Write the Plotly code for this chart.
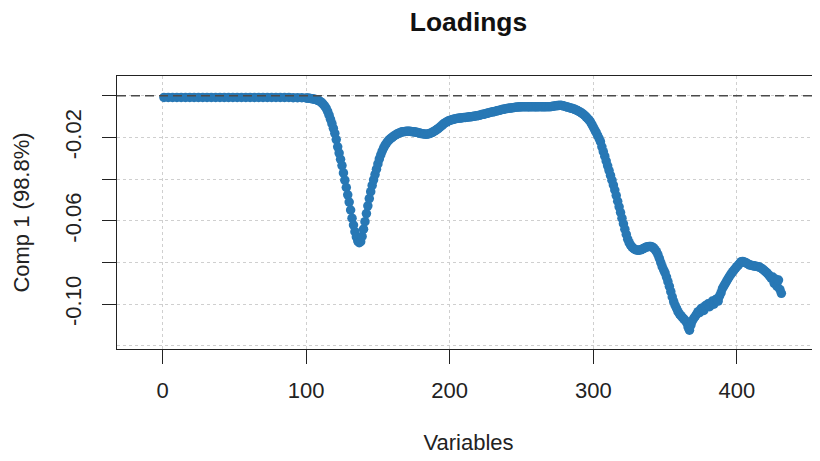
import plotly.graph_objects as go

# ---- data -------------------------------------------------------------
variables = list(range(1, 100, 3)) + list(range(100, 432))

loadings = [
    -0.0008, -0.0008, -0.0008, -0.0008, -0.0008, -0.0008, -0.0008, -0.0008, -0.0008, -0.0008, -0.0008,
    -0.0008, -0.0008, -0.0008, -0.0008, -0.0008, -0.0008, -0.0008, -0.0008, -0.0008, -0.0008, -0.0008,
    -0.0008, -0.0008, -0.0008, -0.0008, -0.0008, -0.0008, -0.0008, -0.0008, -0.0009, -0.0009, -0.0009,
    # 100
    -0.0010, -0.0011, -0.0012, -0.0013, -0.0014, -0.0015, -0.0017, -0.0019, -0.0021, -0.0024,
    -0.0028, -0.0034, -0.0041, -0.0050, -0.0060, -0.0075, -0.0093, -0.0113, -0.0134, -0.0156,
    -0.0180, -0.0210, -0.0245, -0.0275, -0.0305, -0.0335, -0.0370, -0.0405, -0.0440, -0.0475,
    -0.0510, -0.0548, -0.0587, -0.0620, -0.0652, -0.0677, -0.0697, -0.0705, -0.0700, -0.0675,
    -0.0640, -0.0604, -0.0565, -0.0528, -0.0493, -0.0460, -0.0430, -0.0403, -0.0378, -0.0352,
    -0.0327, -0.0303, -0.0283, -0.0265, -0.0250, -0.0237, -0.0227, -0.0218, -0.0210, -0.0204,
    -0.0199, -0.0194, -0.0189, -0.0185, -0.0181, -0.0178, -0.0175, -0.0173, -0.0172, -0.0171,
    -0.0170, -0.0170, -0.0170, -0.0171, -0.0172, -0.0173, -0.0174, -0.0175, -0.0177, -0.0179,
    -0.0181, -0.0182, -0.0183, -0.0184, -0.0184, -0.0183, -0.0181, -0.0178, -0.0175, -0.0171,
    -0.0167, -0.0162, -0.0157, -0.0152, -0.0146, -0.0140, -0.0134, -0.0129, -0.0125, -0.0121,
    # 200
    -0.0118, -0.0116, -0.0114, -0.0112, -0.0110, -0.0109, -0.0108, -0.0107, -0.0106, -0.0105,
    -0.0104, -0.0104, -0.0103, -0.0102, -0.0101, -0.0100, -0.0099, -0.0098, -0.0097, -0.0096,
    -0.0094, -0.0093, -0.0091, -0.0089, -0.0088, -0.0086, -0.0084, -0.0082, -0.0080, -0.0079,
    -0.0077, -0.0076, -0.0074, -0.0072, -0.0070, -0.0069, -0.0067, -0.0065, -0.0064, -0.0062,
    -0.0061, -0.0060, -0.0059, -0.0058, -0.0057, -0.0056, -0.0055, -0.0054, -0.0054, -0.0053,
    -0.0053, -0.0053, -0.0052, -0.0052, -0.0053, -0.0053, -0.0053, -0.0052, -0.0052, -0.0053,
    -0.0053, -0.0053, -0.0052, -0.0052, -0.0052, -0.0053, -0.0053, -0.0052, -0.0052, -0.0052,
    -0.0052, -0.0051, -0.0050, -0.0049, -0.0048, -0.0047, -0.0046, -0.0045, -0.0046, -0.0048,
    -0.0050, -0.0052, -0.0054, -0.0056, -0.0058, -0.0060, -0.0062, -0.0065, -0.0068, -0.0071,
    -0.0075, -0.0079, -0.0083, -0.0088, -0.0094, -0.0101, -0.0108, -0.0116, -0.0125, -0.0137,
    # 300
    -0.0150, -0.0163, -0.0176, -0.0190, -0.0204, -0.0220, -0.0245, -0.0268, -0.0290, -0.0313,
    -0.0336, -0.0359, -0.0382, -0.0405, -0.0428, -0.0452, -0.0479, -0.0506, -0.0533, -0.0560,
    -0.0587, -0.0614, -0.0640, -0.0665, -0.0688, -0.0705, -0.0717, -0.0726, -0.0732, -0.0737,
    -0.0740, -0.0741, -0.0741, -0.0739, -0.0736, -0.0733, -0.0729, -0.0726, -0.0724, -0.0723,
    -0.0723, -0.0725, -0.0730, -0.0738, -0.0748, -0.0762, -0.0780, -0.0800, -0.0820, -0.0835,
    -0.0850, -0.0870, -0.0892, -0.0915, -0.0940, -0.0965, -0.0988, -0.1005, -0.1020, -0.1036,
    -0.1046, -0.1055, -0.1063, -0.1070, -0.1078, -0.1088, -0.1110, -0.1125, -0.1100, -0.1080,
    -0.1068, -0.1058, -0.1048, -0.1036, -0.1040, -0.1022, -0.1018, -0.1030, -0.1008, -0.1005,
    -0.0998, -0.1012, -0.0996, -0.0985, -0.1000, -0.0980, -0.0975, -0.0985, -0.0960, -0.0945,
    -0.0924, -0.0912, -0.0900, -0.0888, -0.0876, -0.0865, -0.0855, -0.0845, -0.0836, -0.0828,
    # 400
    -0.0820, -0.0812, -0.0804, -0.0796, -0.0795, -0.0798, -0.0800, -0.0804, -0.0808, -0.0812,
    -0.0813, -0.0815, -0.0816, -0.0818, -0.0819, -0.0820, -0.0823, -0.0827, -0.0832, -0.0838,
    -0.0844, -0.0850, -0.0858, -0.0866, -0.0876, -0.0870, -0.0900, -0.0880, -0.0915, -0.0884,
    -0.0930, -0.0948,
]

x_ticks = [0, 100, 200, 300, 400]
y_ticks = [0.0, -0.02, -0.04, -0.06, -0.08, -0.10]
y_ticktext = ["", "-0.02", "", "-0.06", "", "-0.10"]

if len(variables) != len(loadings):
    raise ValueError(f"length mismatch {len(variables)} vs {len(loadings)}")

# ---- figure -----------------------------------------------------------
# The page body keeps its default 8px margin, so the figure is 8px smaller
# in each direction and the margins are shifted to compensate.
FONT = "Liberation Sans, Arial, sans-serif"
GRID = "#cfcfcf"
AXIS = "#222222"
W, H = 812, 453

fig = go.Figure()
fig.add_trace(go.Scatter(
    x=variables, y=loadings, mode="markers",
    marker=dict(color="#2878B5", size=9.5, line=dict(width=0)),
    showlegend=False, hoverinfo="x+y",
))

fig.add_shape(type="line", xref="paper", yref="y", x0=0, x1=1, y0=0, y1=0,
              line=dict(color="#4a4a4a", width=1.6, dash="9px,5px"), layer="above")

fig.update_layout(
    width=W, height=H,
    margin=dict(l=109, r=0, t=68, b=112),
    paper_bgcolor="white", plot_bgcolor="white",
    font=dict(family=FONT, size=22, color=AXIS),
    title=dict(text="<b>Loadings</b>", x=0.5, xref="paper", xanchor="center",
               y=1 - 14 / H, yref="container", yanchor="middle",
               font=dict(size=26.4, color="#111111", family=FONT)),
)

fig.update_xaxes(
    range=[-31.7, 457.9], tickvals=x_ticks, ticktext=[str(v) for v in x_ticks],
    showline=True, mirror=True, linecolor=AXIS, linewidth=1,
    ticks="outside", ticklen=14, tickcolor=AXIS, tickwidth=1,
    ticklabelstandoff=8,
    showgrid=True, gridcolor=GRID, griddash="3px,3px", gridwidth=1,
    zeroline=False,
    title=dict(text="Variables", standoff=32, font=dict(size=22)),
)
fig.update_yaxes(
    range=[-0.1215, 0.0095], tickvals=y_ticks, ticktext=y_ticktext,
    tickangle=-90,
    showline=True, mirror=False, linecolor=AXIS, linewidth=1,
    ticks="outside", ticklen=14, tickcolor=AXIS, tickwidth=1,
    ticklabelstandoff=12,
    showgrid=True, gridcolor=GRID, griddash="3px,3px", gridwidth=1,
    minor=dict(tickvals=[-0.12], showgrid=True, gridcolor=GRID, griddash="3px,3px", ticks=""),
    zeroline=False,
    title=dict(text="Comp 1 (98.8%)", standoff=25, font=dict(size=22)),
)

fig.write_html("out.html")
